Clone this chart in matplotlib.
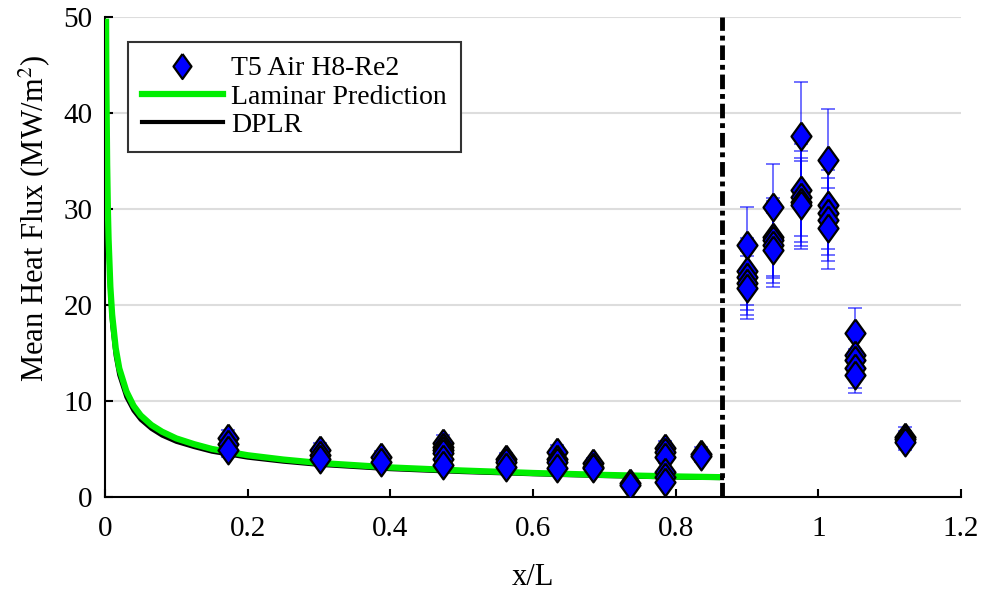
import matplotlib
matplotlib.use("Agg")
import matplotlib.pyplot as plt
import numpy as np

plt.rcParams['font.family'] = ['Liberation Serif', 'DejaVu Serif']
plt.rcParams['mathtext.fontset'] = 'stix'

x_exp = [0.172, 0.172, 0.172,
         0.302, 0.302, 0.302,
         0.387, 0.387,
         0.474, 0.474, 0.474, 0.474, 0.474, 0.474,
         0.562, 0.562, 0.562,
         0.634, 0.634, 0.634, 0.634,
         0.684, 0.684, 0.684,
         0.736, 0.736,
         0.785, 0.785, 0.785, 0.785, 0.785, 0.785,
         0.836, 0.836,
         0.900, 0.900, 0.900, 0.900, 0.900,
         0.937, 0.937, 0.937, 0.937, 0.937,
         0.976, 0.976, 0.976, 0.976, 0.976,
         1.013, 1.013, 1.013, 1.013, 1.013,
         1.052, 1.052, 1.052, 1.052, 1.052,
         1.122, 1.122, 1.122]
q_exp = [6.1, 5.5, 4.9,
         4.9, 4.4, 4.0,
         4.2, 3.6,
         5.6, 5.2, 4.9, 4.6, 4.0, 3.3,
         4.0, 3.6, 3.1,
         4.7, 4.0, 3.6, 3.0,
         3.5, 3.1, 3.0,
         1.5, 1.25,
         5.1, 4.7, 4.2, 2.6, 2.1, 1.6,
         4.5, 4.3,
         26.3, 23.5, 22.9, 22.3, 21.8,
         30.2, 27.1, 26.8, 26.2, 25.7,
         37.6, 32.0, 31.3, 30.7, 30.4,
         35.1, 30.4, 29.6, 28.9, 28.0,
         17.1, 14.8, 14.3, 13.4, 12.7,
         6.3, 6.0, 5.7]
err_frac = 0.15

# laminar prediction and DPLR curves
x_lam = [0.0015, 0.002, 0.003, 0.004, 0.005, 0.0075, 0.01, 0.015, 0.02, 0.03,
         0.04, 0.05, 0.065, 0.08, 0.1, 0.125, 0.15, 0.2, 0.25, 0.3,
         0.4, 0.5, 0.6, 0.7, 0.8, 0.858]
q_lam = [49.5, 42.5, 34.7, 30.0, 26.9, 21.9, 19.0, 15.5, 13.4, 11.0,
         9.5, 8.5, 7.5, 6.8, 6.1, 5.5, 5.0, 4.35, 3.9, 3.55,
         3.08, 2.76, 2.5, 2.3, 2.14, 2.07]
x_dplr = [0.0014, 0.002, 0.003, 0.004, 0.005, 0.0075, 0.01, 0.015, 0.02, 0.03,
          0.04, 0.05, 0.065, 0.08, 0.1, 0.125, 0.15, 0.2, 0.25, 0.3,
          0.4, 0.5, 0.6, 0.7, 0.8, 0.865]
q_dplr = [49.0, 40.4, 33.0, 28.5, 25.5, 20.8, 18.0, 14.7, 12.7, 10.4,
          9.0, 8.05, 7.1, 6.4, 5.75, 5.2, 4.72, 4.1, 3.68, 3.35,
          2.9, 2.6, 2.37, 2.18, 2.03, 1.97]

x_ramp = 0.865

fig = plt.figure(figsize=(9.85, 5.92), dpi=100)
ax = fig.add_axes([0.1066, 0.1605, 0.869, 0.8108])

ax.plot(x_dplr, q_dplr, color='black', lw=3, zorder=3, label='DPLR')
ax.plot(x_lam, q_lam, color='#00ee00', lw=4.5, zorder=3.5, label='Laminar Prediction')

diamond = [(0, 1), (0.72, 0), (0, -1), (-0.72, 0), (0, 1)]
q_arr = np.array(q_exp)
ax.errorbar(x_exp, q_exp, yerr=err_frac * q_arr, fmt='none', ecolor=(0, 0, 1, 0.65),
            elinewidth=1.2, capsize=4.8, capthick=1.2, zorder=4)
ax.plot(x_exp, q_exp, linestyle='none', marker=diamond, markersize=20,
        markerfacecolor='#0000ff', markeredgecolor='black', markeredgewidth=1.6,
        zorder=5, label='T5 Air H8-Re2')

ax.axvline(x_ramp, color='black', lw=3.5, linestyle=(0, (3, 1, 1, 1)), zorder=6)

ax.set_xlim(0, 1.2)
ax.set_ylim(0, 50)
ax.set_xticks([0, 0.2, 0.4, 0.6, 0.8, 1.0, 1.2])
ax.set_xticklabels(['0', '0.2', '0.4', '0.6', '0.8', '1', '1.2'])
ax.set_yticks([0, 10, 20, 30, 40, 50])
ax.yaxis.grid(True, color='#dddddd', lw=1.5)
ax.set_axisbelow(True)
for s in ['top', 'right']:
    ax.spines[s].set_visible(False)
for s in ['left', 'bottom']:
    ax.spines[s].set_linewidth(1.5)
ax.tick_params(direction='in', length=6, width=1.5, labelsize=21)
ax.tick_params(axis='x', pad=14)
ax.tick_params(axis='y', pad=9)

ax.set_xlabel('x/L', fontsize=22)
ax.set_ylabel('Mean Heat Flux (MW/m$^2$)', fontsize=22)
ax.xaxis.set_label_coords(0.5, -0.137)
ax.yaxis.set_label_coords(-0.062, 0.58)

handles, labels = ax.get_legend_handles_labels()
order = [2, 1, 0]
leg = ax.legend([handles[i] for i in order], [labels[i] for i in order],
                loc='upper left', bbox_to_anchor=(0.027, 0.948), borderaxespad=0,
                fontsize=20, fancybox=False, framealpha=1, edgecolor='#333333',
                handlelength=2.9, handletextpad=0.3, borderpad=0.5,
                labelspacing=0.1, markerscale=0.9)
leg.get_frame().set_linewidth(1.5)

fig.savefig('out.png', dpi=100)
